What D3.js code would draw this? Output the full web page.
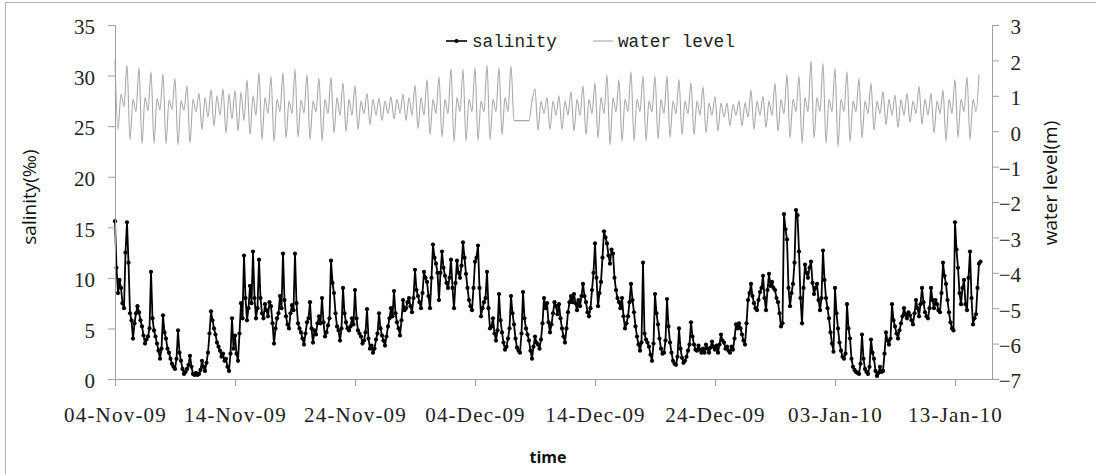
<!DOCTYPE html>
<html>
<head>
<meta charset="utf-8">
<script src="https://cdn.jsdelivr.net/npm/d3@7"></script>
<style>
  html, body { margin: 0; padding: 0; background: #fff; }
  svg { display: block; }
</style>
</head>
<body>
<svg id="chart" width="1096" height="474"></svg>
<script>
// ---- data ----
const startDate = "2009-11-04";
const salinityStepHours = 3;   // salinity: 8 samples per day
const waterStepHours = 6;      // water level: 4 samples per day

// salinity (‰), one row per day starting 04-Nov-2009
const salinity = [
  15.6, 11.0, 8.5, 9.8, 9.0, 7.5, 7.0, 12.5,
  15.5, 11.5, 6.5, 5.8, 4.0, 5.5, 6.5, 7.2,
  6.6, 5.8, 5.2, 4.3, 3.5, 3.9, 4.2, 5.0,
  10.6, 6.0, 4.8, 4.2, 3.5, 2.8, 2.0, 3.0,
  6.3, 4.6, 4.0, 3.0, 2.6, 2.0, 1.5, 1.2,
  1.0, 2.0, 4.8, 2.6, 1.8, 1.0, 0.5, 0.7,
  1.0, 1.4, 2.3, 1.2, 0.5, 0.4, 0.6, 0.4,
  0.5, 0.9, 1.8, 1.2, 0.8, 1.6, 2.6, 4.5,
  6.7, 5.8, 5.0, 4.4, 3.6, 3.2, 2.8, 2.2,
  2.5, 1.8, 2.0, 1.2, 0.8, 2.5, 6.0, 3.0,
  4.3, 2.5, 1.8, 4.5, 7.5, 6.0, 12.2, 8.0,
  5.8, 7.0, 9.2, 7.5, 12.6, 8.0, 6.0, 7.0,
  11.8, 8.0, 6.5, 6.0, 7.4, 6.8, 6.2, 7.6,
  7.2, 5.5, 3.5, 5.0, 6.0, 6.5, 8.2, 7.0,
  12.4, 7.8, 6.2, 5.4, 5.0, 6.5, 7.3, 6.8,
  12.4, 7.5, 5.5, 5.0, 4.6, 4.0, 3.4, 4.5,
  5.6, 6.0, 7.6, 5.0, 3.6, 4.8, 4.4, 5.5,
  6.2, 5.5, 8.0, 5.6, 4.2, 4.6, 5.3, 6.0,
  11.7, 9.5, 8.5, 6.5, 5.2, 4.8, 3.8, 5.0,
  9.0, 6.5, 5.6, 5.0, 4.8, 5.2, 6.0, 5.4,
  8.8, 6.0, 4.8, 4.5, 4.2, 3.5, 3.8, 4.6,
  6.9, 4.0, 3.0, 3.3, 2.6, 3.0, 3.9, 4.5,
  6.5, 5.0, 4.3, 3.8, 3.3, 4.2, 5.2, 6.0,
  7.0, 6.2, 8.7, 6.5, 5.6, 5.0, 4.3, 5.8,
  7.8, 6.8, 7.0, 7.6, 8.0, 7.2, 6.6, 8.0,
  10.8, 8.8, 8.2, 7.6, 7.0, 8.5, 10.6, 10.0,
  9.6, 8.2, 7.0, 10.0, 13.3, 12.0, 11.4, 10.5,
  7.8, 10.5, 12.6, 11.0, 10.2, 9.5, 9.0, 10.0,
  11.8, 9.0, 7.0, 9.5, 11.7, 10.5, 10.0, 11.2,
  13.5, 12.0, 10.4, 9.0, 7.8, 7.2, 6.8, 9.0,
  11.6, 12.0, 13.2, 9.0, 6.2, 7.0, 7.6, 8.0,
  10.6, 7.0, 5.0, 5.2, 6.0, 4.5, 3.8, 4.8,
  8.4, 5.8, 4.6, 3.6, 2.9, 3.2, 4.0, 5.0,
  8.2, 6.5, 5.4, 4.0, 3.1, 2.8, 2.6, 4.5,
  8.6, 6.0, 5.0, 4.4, 3.8, 2.8, 2.0, 3.2,
  4.2, 3.6, 3.4, 3.0, 3.9, 5.5, 8.0, 7.0,
  7.5, 5.6, 4.6, 5.4, 6.5, 7.6, 7.2, 6.4,
  7.4, 6.0, 5.0, 4.2, 3.6, 5.0, 6.6, 7.6,
  8.2, 7.6, 8.4, 7.5, 6.8, 7.8, 7.2, 8.2,
  9.4, 8.2, 7.6, 6.6, 6.2, 7.0, 8.8, 10.5,
  13.4, 10.0, 7.2, 8.5, 9.6, 12.0, 14.6, 14.0,
  13.4, 12.2, 11.4, 12.8, 12.4, 10.0, 8.8, 8.0,
  7.6, 7.0, 8.0, 6.2, 5.0, 5.5, 6.2, 7.6,
  9.4, 7.8, 6.6, 5.2, 4.2, 3.4, 2.8, 3.6,
  11.5, 4.5, 3.9, 3.6, 3.2, 2.4, 1.8, 3.5,
  8.4, 6.5, 5.4, 4.0, 3.0, 2.5, 2.6, 3.8,
  7.9, 5.2, 3.6, 2.6, 1.8, 1.5, 1.4, 2.2,
  5.0, 3.0, 2.1, 1.6, 1.8, 2.2, 2.8, 3.4,
  5.6, 4.2, 3.4, 2.9, 2.8, 3.3, 2.9, 2.6,
  3.0, 2.6, 3.4, 3.0, 2.6, 3.1, 3.7, 3.2,
  2.9, 3.3, 2.6, 3.4, 4.4, 3.8, 3.6, 3.0,
  3.2, 2.8, 2.6, 3.2, 2.9, 4.0, 5.4, 5.0,
  5.5, 5.0, 4.4, 3.8, 3.4, 5.5, 7.8, 8.5,
  9.4, 8.2, 7.5, 7.0, 6.8, 7.8, 8.6, 9.0,
  10.2, 8.0, 6.8, 8.8, 10.4, 9.2, 9.6, 9.0,
  8.8, 8.0, 7.6, 6.5, 5.2, 5.5, 16.3, 14.8,
  13.8, 9.0, 7.2, 8.5, 9.4, 11.5, 16.7, 16.2,
  12.6, 8.0, 5.5, 9.0, 11.3, 10.5, 10.0, 11.0,
  11.6, 9.5, 8.4, 9.0, 9.4, 7.8, 6.8, 8.0,
  12.7, 9.8, 8.0, 7.0, 6.0, 4.6, 3.5, 2.7,
  9.0, 6.5, 5.0, 3.6, 2.8, 2.2, 2.0, 2.5,
  7.4, 5.0, 4.0, 2.0, 1.2, 0.9, 0.7, 0.6,
  0.5, 1.5, 4.4, 2.0, 1.0, 0.7, 0.5, 1.2,
  3.9, 2.6, 2.0, 0.8, 0.3, 0.6, 1.2, 0.7,
  0.8, 2.5, 4.6, 3.8, 3.4, 4.0, 7.4, 5.8,
  5.2, 4.5, 4.0, 4.8, 5.5, 6.2, 7.0, 6.4,
  6.0, 6.6, 6.3, 5.8, 5.4, 6.5, 7.8, 7.0,
  6.2, 7.4, 9.0, 7.6, 6.6, 6.2, 6.0, 7.0,
  9.0, 7.8, 7.0, 7.8, 7.4, 6.8, 6.6, 8.5,
  11.5, 10.2, 9.4, 7.8, 6.6, 5.6, 5.0, 4.8,
  15.5, 12.8, 11.0, 8.5, 7.4, 9.0, 9.8, 7.4,
  6.8, 10.0, 12.6, 8.0, 5.4, 6.0, 6.4, 9.0,
  11.4, 11.6
];

// water level (m), one row per day: high, low, secondary high, secondary low
const waterLevel = [
  2.00, 0.05, 1.05, 0.70,   1.87, -0.24, 0.90, 0.55,  1.80, -0.36, 0.95, 0.58,  1.68, -0.34, 0.92, 0.60,
  1.61, -0.36, 0.88, 0.62,  1.49, -0.39, 0.85, 0.60,  1.28, -0.34, 0.90, 0.55,  1.07, 0.05, 0.95, 0.40,
  1.18, 0.15, 1.00, 0.45,   1.20, -0.06, 1.05, 0.35,  1.15, 0.00, 1.10, 0.30,   1.45, -0.10, 1.00, 0.45,
  1.65, -0.24, 0.95, 0.50,  1.55, -0.30, 0.90, 0.55,  1.65, -0.20, 0.85, 0.50,  1.75, -0.17, 0.88, 0.52,
  1.60, -0.24, 0.85, 0.55,  1.50, -0.26, 0.90, 0.50,  1.52, -0.05, 0.95, 0.45,  1.37, -0.01, 0.90, 0.45,
  1.28, 0.04, 0.85, 0.50,   1.07, 0.18, 0.90, 0.45,   0.93, 0.30, 0.85, 0.50,   0.97, 0.35, 0.90, 0.50,
  1.05, 0.30, 0.95, 0.45,   1.30, 0.08, 0.95, 0.45,   1.46, -0.10, 0.90, 0.50,  1.54, -0.17, 0.90, 0.50,
  1.77, -0.30, 0.95, 0.55,  1.75, -0.27, 0.90, 0.55,  1.80, -0.26, 0.85, 0.55,  1.87, -0.24, 0.90, 0.55,
  1.80, -0.10, 0.95, 0.55,  1.84, 0.30, 0.30, 0.30,   0.30, 0.30, 0.30, 0.85,   1.20, 0.02, 0.85, 0.50,
  0.95, 0.05, 0.85, 0.45,   1.00, 0.05, 0.85, 0.45,   1.12, 0.00, 0.90, 0.45,   1.28, -0.10, 0.90, 0.50,
  1.37, -0.20, 0.95, 0.50,  1.59, -0.39, 0.95, 0.55,  1.45, -0.30, 0.90, 0.55,  1.68, -0.27, 0.90, 0.55,
  1.56, -0.27, 0.85, 0.55,  1.56, -0.22, 0.90, 0.50,  1.56, -0.18, 0.85, 0.50,  1.46, -0.10, 0.85, 0.50,
  1.37, -0.10, 0.85, 0.45,  1.26, -0.05, 0.80, 0.45,  0.98, 0.00, 0.80, 0.40,   0.79, 0.15, 0.75, 0.45,
  0.85, 0.15, 0.80, 0.40,   1.16, 0.05, 0.85, 0.45,   0.98, 0.10, 0.85, 0.45,   1.35, -0.01, 0.90, 0.50,
  1.59, -0.20, 0.90, 0.55,  1.56, -0.34, 0.95, 0.55,  1.99, -0.20, 0.95, 0.55,  1.92, -0.33, 0.90, 0.55,
  1.78, -0.44, 0.90, 0.55,  1.68, -0.30, 0.85, 0.55,  1.49, -0.20, 0.85, 0.50,  1.35, 0.03, 0.85, 0.50,
  1.12, 0.18, 0.90, 0.45,   1.02, 0.10, 0.90, 0.45,   1.07, 0.25, 0.85, 0.50,   1.26, 0.20, 0.90, 0.45,
  1.07, -0.06, 0.85, 0.50,  1.16, -0.27, 0.90, 0.50,  1.46, -0.17, 0.90, 0.55,  1.54, -0.24, 0.90, 0.55,
  1.60
];

// axis ticks
const xTickDates = ["2009-11-04","2009-11-14","2009-11-24","2009-12-04","2009-12-14","2009-12-24","2010-01-03","2010-01-13"];
const salinityTicks = [0, 5, 10, 15, 20, 25, 30, 35];
const waterTicks = [-7, -6, -5, -4, -3, -2, -1, 0, 1, 2, 3];
const axisEnd = "2010-01-16T02:00:00Z";

// ---- layout ----
const W = 1096, H = 474;
const m = { left: 115, right: 104, top: 25, bottom: 95 };
const svg = d3.select("#chart");
const tickFont = "'Liberation Serif', 'DejaVu Serif', serif";
const legendFont = "'Liberation Mono', 'DejaVu Sans Mono', monospace";
const titleFont = "'Open Sans', 'Noto Sans', sans-serif";
const axisColor = "#a0a0a0";

const t0 = new Date(startDate + "T00:00:00Z");
const timeAt = (i, step) => new Date(t0.getTime() + i * step * 3600 * 1000);

const x = d3.scaleUtc()
  .domain([t0, new Date(axisEnd)])
  .range([m.left, W - m.right]);
const yL = d3.scaleLinear().domain([0, 35]).range([H - m.bottom, m.top]);
const yR = d3.scaleLinear().domain([-7, 3]).range([H - m.bottom, m.top]);

// outer chart border (only top/left edges are inside the picture)
svg.append("rect").attr("x", 5.5).attr("y", 2.5).attr("width", 3000).attr("height", 3000)
  .attr("fill", "none").attr("stroke", "#b4b4b4").attr("stroke-width", 1);

// water level line
const wlLine = d3.line().curve(d3.curveMonotoneX)
  .x((d, i) => x(timeAt(i, waterStepHours))).y(d => yR(d));
svg.append("path").datum(waterLevel)
  .attr("d", wlLine).attr("fill", "none")
  .attr("stroke", "#a8a8a8").attr("stroke-width", 1.1).attr("stroke-linejoin", "round");

// salinity line + markers
const salLine = d3.line().x((d, i) => x(timeAt(i, salinityStepHours))).y(d => yL(d));
svg.append("path").datum(salinity)
  .attr("d", salLine).attr("fill", "none")
  .attr("stroke", "#000").attr("stroke-width", 1.8).attr("stroke-linejoin", "round");
svg.append("g").selectAll("circle").data(salinity).join("circle")
  .attr("cx", (d, i) => x(timeAt(i, salinityStepHours))).attr("cy", d => yL(d))
  .attr("r", 2.1).attr("fill", "#000");

// axes
function styleAxis(g) {
  g.select(".domain").attr("stroke", axisColor);
  g.selectAll(".tick line").attr("stroke", axisColor);
  g.selectAll(".tick text").attr("fill", "#222").style("font-family", tickFont).style("font-size", "21px");
}

const xAxis = svg.append("g").attr("transform", `translate(0,${H - m.bottom})`)
  .call(d3.axisBottom(x)
    .tickValues(xTickDates.map(s => new Date(s + "T00:00:00Z")))
    .tickFormat(d3.utcFormat("%d-%b-%y"))
    .tickSizeInner(7).tickSizeOuter(0).tickPadding(21));
styleAxis(xAxis);
xAxis.selectAll(".tick text").style("letter-spacing", "1.2px");

const yAxisL = svg.append("g").attr("transform", `translate(${m.left},0)`)
  .call(d3.axisLeft(yL).tickValues(salinityTicks).tickSizeInner(7).tickSizeOuter(0).tickPadding(13));
styleAxis(yAxisL);
yAxisL.selectAll(".tick text").attr("dy", "0.42em");

const yAxisR = svg.append("g").attr("transform", `translate(${W - m.right},0)`)
  .call(d3.axisRight(yR).tickValues(waterTicks).tickFormat(d3.format("d")).tickSizeInner(7).tickSizeOuter(0).tickPadding(0));
styleAxis(yAxisR);
yAxisR.selectAll(".tick text").attr("x", 29).attr("text-anchor", "end").attr("dy", "0.42em");

// axis titles
svg.append("text").attr("transform", "translate(36,197) rotate(-90)")
  .attr("text-anchor", "middle").style("font-family", titleFont).style("font-size", "19px")
  .attr("fill", "#111").text("salinity(‰)");
svg.append("text").attr("transform", "translate(1057,183) rotate(-90)")
  .attr("text-anchor", "middle").style("font-family", titleFont).style("font-size", "19px")
  .attr("fill", "#111").text("water level(m)");
svg.append("text").attr("x", 548).attr("y", 463)
  .attr("text-anchor", "middle").style("font-family", titleFont).style("font-size", "16px")
  .style("font-weight", "bold").attr("fill", "#111").text("time");

// legend
const lg = svg.append("g");
lg.append("line").attr("x1", 446).attr("x2", 467).attr("y1", 41).attr("y2", 41)
  .attr("stroke", "#000").attr("stroke-width", 1.6);
lg.append("circle").attr("cx", 456.5).attr("cy", 41).attr("r", 2.1).attr("fill", "#000");
lg.append("text").attr("x", 472).attr("y", 47).style("font-family", legendFont).style("font-size", "17.7px")
  .attr("fill", "#222").text("salinity");
lg.append("line").attr("x1", 593).attr("x2", 613).attr("y1", 41).attr("y2", 41)
  .attr("stroke", "#a8a8a8").attr("stroke-width", 1.1);
lg.append("text").attr("x", 618).attr("y", 47).style("font-family", legendFont).style("font-size", "17.7px")
  .attr("fill", "#222").text("water level");
</script>
</body>
</html>
